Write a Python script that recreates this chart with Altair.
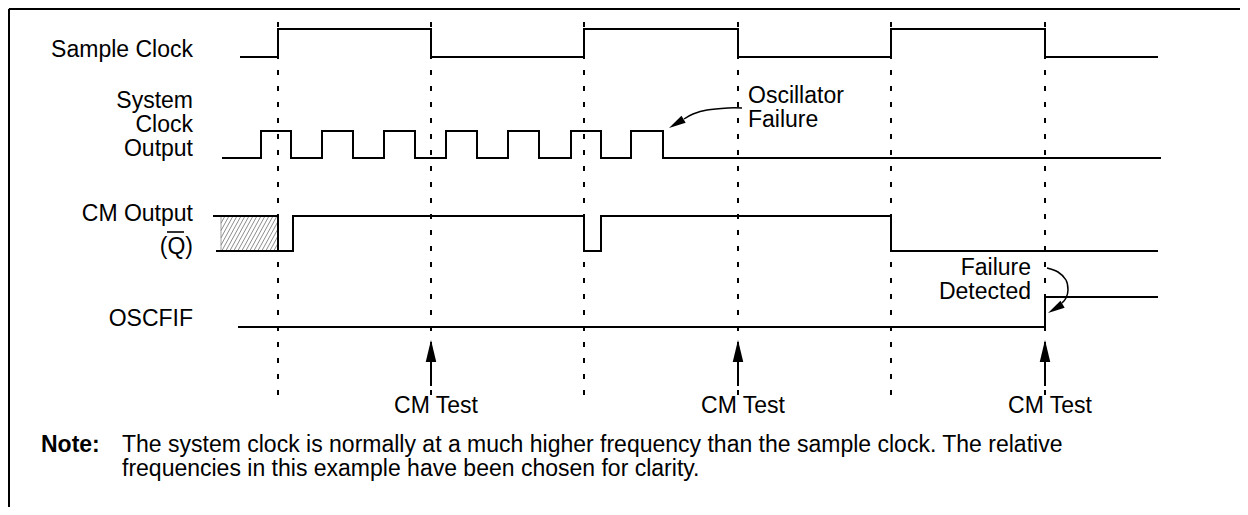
import math
import altair as alt
import pandas as pd

# ---------------- data (page-pixel coordinates of the timing diagram) ----------------
X0, X1 = 8, 1240
Y0, Y1 = 8, 507

# sample-clock edge times (first is rising) -> also the dashed guides
sample_edges = [278, 431, 584, 738, 891, 1045]
sample_span = [241, 1157]
# system clock (oscillator) edges
sys_edges = [261, 291, 322, 353, 384, 415, 446, 477, 508, 539, 571, 601, 631, 663]
sys_span = [223, 1160]
# CM output (Q-bar): unknown state until first edge, then edges
cm_unknown = [221, 278]
cm_edges = [293, 584, 601, 891]
cm_span = [217, 1157]
# OSCFIF flag edge
osc_edges = [1045]
osc_span = [239, 1157]
# CM test instants
cm_test = [431, 738, 1045]

labels_right = ["Sample Clock", "System", "Clock", "Output", "CM Output", "(Q)", "OSCFIF",
                "Failure", "Detected"]
labels_left = ["Oscillator", "Failure"]
note_head = "Note:"
note_lines = ["The system clock is normally at a much higher frequency than the sample clock. The relative",
              "frequencies in this example have been chosen for clarity."]

# ---------------- layout ----------------
LV = {"sample": (29, 57), "sys": (131, 158), "cm": (216, 251), "osc": (297, 327)}
FONT = "Liberation Sans"
FS = 23

xs = alt.Scale(domain=[X0, X1], nice=False, zero=False)
ys = alt.Scale(domain=[Y1, Y0], nice=False, zero=False)


def wave(name, start, end, edges, lo, hi, start_high=False):
    rows = []
    lvl = hi if start_high else lo
    rows.append((start, lvl))
    for e in edges:
        rows.append((e, lvl))
        lvl = lo if lvl == hi else hi
        rows.append((e, lvl))
    rows.append((end, lvl))
    return pd.DataFrame({"x": [r[0] for r in rows], "y": [r[1] for r in rows],
                         "s": name, "o": list(range(len(rows)))})


waves = pd.concat([
    wave("sample", sample_span[0], sample_span[1], sample_edges, LV["sample"][1], LV["sample"][0]),
    wave("sys", sys_span[0], sys_span[1], sys_edges, LV["sys"][1], LV["sys"][0]),
    wave("cm_a", 214, cm_unknown[1], [cm_unknown[1]], LV["cm"][1], LV["cm"][0], start_high=True),
    wave("cm_b", cm_span[0], cm_span[1], cm_edges, LV["cm"][1], LV["cm"][0]),
    wave("osc", osc_span[0], osc_span[1], osc_edges, LV["osc"][1], LV["osc"][0]),
], ignore_index=True)

wave_layer = alt.Chart(waves).mark_line(color="black", strokeWidth=2, interpolate="linear",
                                        strokeCap="square").encode(
    x=alt.X("x:Q", scale=xs, axis=None), y=alt.Y("y:Q", scale=ys, axis=None),
    detail="s:N", order="o:Q")

# dashed guides
guides = pd.DataFrame({"x": sample_edges, "y": 22, "y2": 395})
guide_layer = alt.Chart(guides).mark_rule(color="black", strokeWidth=2, strokeDash=[5, 11]).encode(
    x=alt.X("x:Q", scale=xs, axis=None), y=alt.Y("y:Q", scale=ys, axis=None), y2="y2:Q")

# hatched unknown region
hx0, hx1 = cm_unknown
hy_top, hy_bot = LV["cm"]
hh = hy_bot - hy_top
slope = 0.55
segs = []
c = hx0 - hh * slope
while c < hx1:
    t0 = max(0.0, (hx0 - c) / (hh * slope))
    t1 = min(1.0, (hx1 - c) / (hh * slope))
    if t1 > t0:
        segs.append({"x": c + t0 * hh * slope, "y": hy_bot - t0 * hh,
                     "x2": c + t1 * hh * slope, "y2": hy_bot - t1 * hh})
    c += 4.0
hatch = pd.DataFrame(segs)
hatch_layer = alt.Chart(hatch).mark_rule(color="#6f6f6f", strokeWidth=0.8).encode(
    x=alt.X("x:Q", scale=xs, axis=None), y=alt.Y("y:Q", scale=ys, axis=None), x2="x2:Q", y2="y2:Q")
hbox = pd.DataFrame({"x": [hx0], "x2": [hx1], "y": [hy_top], "y2": [hy_bot]})
hbox_layer = alt.Chart(hbox).mark_rect(fill="white", stroke="#888888", strokeWidth=0.8).encode(
    x=alt.X("x:Q", scale=xs, axis=None), y=alt.Y("y:Q", scale=ys, axis=None), x2="x2:Q", y2="y2:Q")

# frame
frame = pd.DataFrame({"x": [9, 9], "x2": [1240, 9], "y": [9, 9], "y2": [9, 507]})
frame_layer = alt.Chart(frame).mark_rule(color="black", strokeWidth=2).encode(
    x=alt.X("x:Q", scale=xs, axis=None), y=alt.Y("y:Q", scale=ys, axis=None), x2="x2:Q", y2="y2:Q")

# CM test arrows shafts
shafts = pd.DataFrame({"x": cm_test, "y": 352, "y2": 386})
shaft_layer = alt.Chart(shafts).mark_rule(color="black", strokeWidth=2).encode(
    x=alt.X("x:Q", scale=xs, axis=None), y=alt.Y("y:Q", scale=ys, axis=None), y2="y2:Q")

# curved leaders
osc_curve = pd.DataFrame({"x": [742, 728, 707, 693, 684], "y": [108, 108, 110, 114, 119],
                          "s": "a", "o": range(5)})
det_curve = pd.DataFrame({"x": [1047, 1058, 1066, 1068, 1066, 1062], "y": [268, 272, 280, 290, 298, 303],
                          "s": "b", "o": range(6)})
curves = pd.concat([osc_curve, det_curve], ignore_index=True)
curve_layer = alt.Chart(curves).mark_line(color="black", strokeWidth=1.5, interpolate="cardinal").encode(
    x=alt.X("x:Q", scale=xs, axis=None), y=alt.Y("y:Q", scale=ys, axis=None), detail="s:N", order="o:Q")

# arrow heads: tip, direction source point, length
heads_spec = [((669, 128), (684, 119), 17),
              ((1048, 313), (1063, 304), 17)] + [((x, 340), (x, 360), 22) for x in cm_test]
rows = []
for (tx, ty), (bx, by), L in heads_spec:
    dx, dy = tx - bx, ty - by
    n = math.hypot(dx, dy)
    ux, uy = dx / n, dy / n
    ang = math.degrees(math.atan2(dx, -dy)) % 360
    rows.append({"x": tx - ux * L / 2, "y": ty - uy * L / 2, "a": ang, "sz": L * L})
heads = pd.DataFrame(rows)
head_layer = alt.Chart(heads).mark_point(shape="M0,-1L0.48,1L-0.48,1Z", filled=True, fill="black",
                                         opacity=1).encode(
    x=alt.X("x:Q", scale=xs, axis=None), y=alt.Y("y:Q", scale=ys, axis=None),
    angle=alt.Angle("a:Q", scale=None), size=alt.Size("sz:Q", scale=None, legend=None))

# text
tr = pd.DataFrame({"t": labels_right,
                   "x": [193, 193, 193, 193, 193, 193, 193, 1031, 1031],
                   "y": [57, 108, 132, 156, 221, 254, 326, 275, 299]})
text_r = alt.Chart(tr).mark_text(align="right", baseline="alphabetic", font=FONT, fontSize=FS,
                                 color="black").encode(
    x=alt.X("x:Q", scale=xs, axis=None), y=alt.Y("y:Q", scale=ys, axis=None), text="t:N")
tl = pd.DataFrame({"t": labels_left + note_lines,
                   "x": [748, 748, 122, 122], "y": [103, 127, 452, 476]})
text_l = alt.Chart(tl).mark_text(align="left", baseline="alphabetic", font=FONT, fontSize=FS,
                                 color="black").encode(
    x=alt.X("x:Q", scale=xs, axis=None), y=alt.Y("y:Q", scale=ys, axis=None), text="t:N")
tc = pd.DataFrame({"t": ["CM Test"] * 3, "x": [v + 5 for v in cm_test], "y": 413})
text_c = alt.Chart(tc).mark_text(align="center", baseline="alphabetic", font=FONT, fontSize=FS,
                                 color="black").encode(
    x=alt.X("x:Q", scale=xs, axis=None), y=alt.Y("y:Q", scale=ys, axis=None), text="t:N")
tb = pd.DataFrame({"t": [note_head], "x": [41], "y": [452]})
text_b = alt.Chart(tb).mark_text(align="left", baseline="alphabetic", font=FONT, fontSize=FS,
                                 fontWeight="bold", color="black").encode(
    x=alt.X("x:Q", scale=xs, axis=None), y=alt.Y("y:Q", scale=ys, axis=None), text="t:N")
# overline on Q
ovl = pd.DataFrame({"x": [167], "x2": [184], "y": [232]})
ovl_layer = alt.Chart(ovl).mark_rule(color="black", strokeWidth=1.6).encode(
    x=alt.X("x:Q", scale=xs, axis=None), y=alt.Y("y:Q", scale=ys, axis=None), x2="x2:Q")

chart = alt.layer(
    frame_layer, guide_layer, hbox_layer, hatch_layer, wave_layer, shaft_layer, curve_layer,
    head_layer, text_r, text_l, text_c, text_b, ovl_layer
).properties(
    width=X1 - X0, height=Y1 - Y0, padding=0, autosize=alt.AutoSizeParams(type="none")
).configure_view(stroke=None).configure(background="white")

chart.save("out.html", embed_options={"renderer": "svg", "actions": False})
